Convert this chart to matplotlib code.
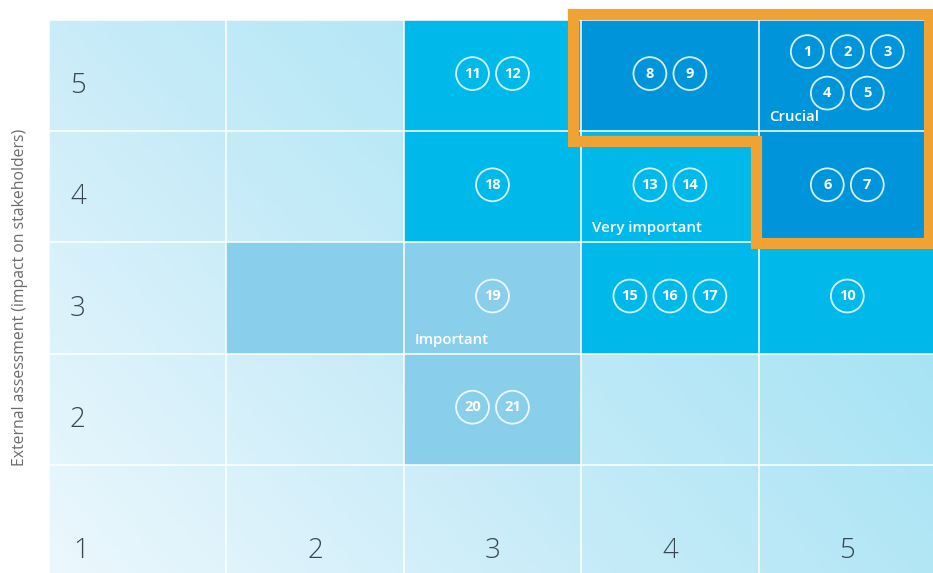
import numpy as np
import matplotlib
matplotlib.use("Agg")
import matplotlib.pyplot as plt
from matplotlib.colors import LinearSegmentedColormap
from collections import defaultdict

plt.rcParams['font.family'] = ['Open Sans', 'DejaVu Sans']

# ---- data ----
levels = [1, 2, 3, 4, 5]
ylabel = "External assessment (impact on stakeholders)"

# cell shading category: (x, y) -> category
cell_x = [3, 4, 5, 3, 4, 5, 2, 3, 4, 5, 3]
cell_y = [5, 5, 5, 4, 4, 4, 3, 3, 3, 3, 2]
cell_cat = ['cyan', 'dark', 'dark', 'cyan', 'cyan', 'dark', 'medium', 'medium', 'cyan', 'cyan', 'medium']

topic_ids = list(range(1, 22))
topic_x = [5, 5, 5, 5, 5, 5, 5, 4, 4, 5, 3, 3, 4, 4, 4, 4, 4, 3, 3, 3, 3]
topic_y = [5, 5, 5, 5, 5, 4, 4, 5, 5, 3, 5, 5, 4, 4, 3, 3, 3, 4, 3, 2, 2]

zone_labels = ['Crucial', 'Very important', 'Important']
zone_x = [5, 4, 3]
zone_y = [5, 4, 3]

cat_colors = {'medium': '#89cfeb', 'cyan': '#00b9eb', 'dark': '#0095da'}

# ---- figure ----
W, H = 933, 573
fig = plt.figure(figsize=(W / 100, H / 100), dpi=100)
gx0, gx1, gy0, gy1 = 49, 936, 20, 576   # grid extent in pixels (top-based y)
ax = fig.add_axes([gx0 / W, (H - gy1) / H, (gx1 - gx0) / W, (gy1 - gy0) / H])
ax.set_xlim(0.5, 5.5)
ax.set_ylim(0.5, 5.5)
ax.axis('off')

pxx = 1 / ((gx1 - gx0) / 5)   # data units per pixel (x)
pxy = 1 / ((gy1 - gy0) / 5)   # data units per pixel (y)

# gradient background
u = np.linspace(0, 1, 300)
v = np.linspace(0, 1, 200)
U, V = np.meshgrid(u, v)
T = np.clip(0.78 * U + 0.45 * V, 0, 1)
cmap = LinearSegmentedColormap.from_list('bg', ['#ecf8fd', '#c6ebf8', '#a4e3f4'])
ax.imshow(T, extent=(0.5, 5.5, 0.5, 5.5), origin='lower', cmap=cmap,
          aspect='auto', zorder=0, vmin=0, vmax=1)

# coloured cells
for cx, cy, cc in zip(cell_x, cell_y, cell_cat):
    ax.add_patch(plt.Rectangle((cx - 0.5, cy - 0.5), 1, 1, facecolor=cat_colors[cc],
                               edgecolor='none', zorder=1))

# white grid lines
for k in np.arange(0.5, 6.0, 1.0):
    ax.plot([k, k], [0.5, 5.5], color='white', lw=1.1, zorder=2, solid_capstyle='butt')
    ax.plot([0.5, 5.5], [k, k], color='white', lw=1.1, zorder=2, solid_capstyle='butt')

# orange outline
ox = [0.5 + (573 - gx0) * pxx, 0.5 + (929 - gx0) * pxx, 0.5 + (756 - gx0) * pxx]
oy = [5.5 - (14 - gy0) * pxy, 5.5 - (243 - gy0) * pxy, 5.5 - (141 - gy0) * pxy]
path_x = [ox[0], ox[1], ox[1], ox[2], ox[2], ox[0], ox[0]]
path_y = [oy[0], oy[0], oy[1], oy[1], oy[2], oy[2], oy[0]]
ax.plot(path_x, path_y, color='#f0a332', lw=8, zorder=6, solid_joinstyle='miter',
        clip_on=False)

# topic circles
groups = defaultdict(list)
for tid, tx, ty in zip(topic_ids, topic_x, topic_y):
    groups[(tx, ty)].append(tid)

spacing = 40
for (tx, ty), ids in groups.items():
    pos = []
    if len(ids) <= 3:
        n = len(ids)
        for i, tid in enumerate(ids):
            pos.append((tid, tx + (i - (n - 1) / 2) * spacing * pxx, ty + 2 * pxy))
    else:
        rows = [ids[:3], ids[3:]]
        offs = [24, -17.5]
        for r, off in zip(rows, offs):
            n = len(r)
            for i, tid in enumerate(r):
                pos.append((tid, tx + (i - (n - 1) / 2) * spacing * pxx, ty + off * pxy))
    for tid, px_, py_ in pos:
        ax.scatter([px_], [py_], s=560, facecolor='none',
                   edgecolor=(1, 1, 1, 0.85), linewidth=1.3, zorder=7)
        ax.text(px_, py_, str(tid), color='white', fontsize=10.5, fontweight='bold',
                ha='center', va='center', zorder=8)

# zone labels
for lab, zx, zy in zip(zone_labels, zone_x, zone_y):
    ax.text(zx - 0.5 + 11 * pxx, zy - 0.5 + 14 * pxy, lab, color='white',
            fontsize=10.8, fontweight='semibold', ha='left', va='center', zorder=8)

# axis numbers
tick_col = '#3b4750'
for lv in levels[1:]:
    ax.text(0.5 + 21 * pxx, lv - 0.095, str(lv), fontsize=20, color=tick_col,
            ha='left', va='center', fontweight='light', zorder=8)
ax.text(0.5 + 24 * pxx, 0.725, '1', fontsize=20, color=tick_col,
        ha='left', va='center', fontweight='light', zorder=8)
for lv in levels[1:]:
    ax.text(lv, 0.725, str(lv), fontsize=20, color=tick_col,
            ha='center', va='center', fontweight='light', zorder=8)

fig.text(20 / W, 1 - 297 / H, ylabel, rotation=90, fontsize=11.3, color='#6b6b6b',
         ha='center', va='center')

fig.savefig('out.png', dpi=100)
